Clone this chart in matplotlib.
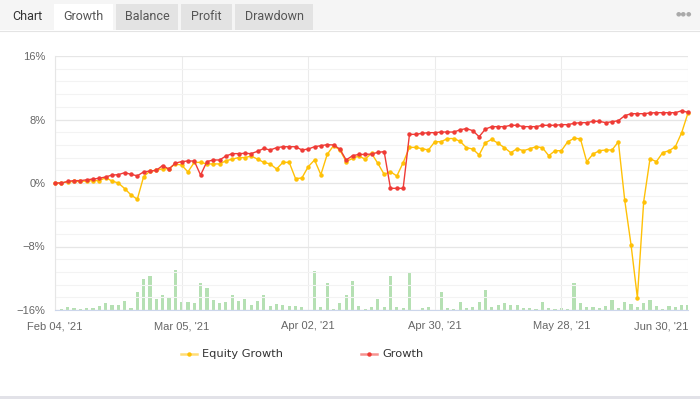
import matplotlib
matplotlib.use("Agg")
import matplotlib.pyplot as plt
import numpy as np
from matplotlib.patches import Rectangle
from matplotlib.lines import Line2D

# values (percent), one point per trading day
growth = [0.0, 0.0, 0.2, 0.3, 0.3, 0.4, 0.5, 0.6, 0.76, 1.0,
          1.05, 1.3, 1.1, 0.9, 1.4, 1.5, 1.6, 2.2, 1.76, 2.5,
          2.7, 2.77, 2.77, 1.0, 2.7, 2.9, 2.9, 3.4, 3.7, 3.7,
          3.74, 3.7, 4.0, 4.35, 4.16, 4.45, 4.57, 4.57, 4.57, 4.16,
          4.28, 4.57, 4.7, 4.83, 4.79, 4.28, 2.9, 3.44, 3.6, 3.6,
          3.65, 3.86, 3.95, -0.67, -0.67, -0.67, 6.13, 6.13, 6.26, 6.34,
          6.34, 6.42, 6.42, 6.42, 6.7, 6.86, 6.59, 5.83, 6.8, 7.1,
          7.1, 7.1, 7.27, 7.27, 7.1, 7.1, 7.1, 7.27, 7.27, 7.27,
          7.35, 7.35, 7.52, 7.6, 7.6, 7.77, 7.77, 7.6, 7.72, 7.85,
          8.48, 8.73, 8.73, 8.73, 8.82, 8.86, 8.86, 8.86, 8.86, 9.1,
          8.9]
equity_growth = [0.0, 0.0, 0.15, 0.2, 0.2, 0.25, 0.3, 0.3, 0.67, 0.25,
                 0.0, -0.7, -1.5, -2.05, 0.8, 1.5, 1.6, 1.8, 1.8, 2.4,
                 2.26, 1.4, 2.6, 2.6, 2.4, 2.4, 2.4, 2.8, 3.0, 3.2,
                 3.2, 3.4, 3.0, 2.6, 2.4, 1.76, 2.6, 2.6, 0.55, 0.63,
                 2.05, 2.9, 1.05, 3.6, 4.7, 4.16, 2.7, 3.1, 3.4, 3.0,
                 3.74, 2.48, 1.09, 1.43, 0.88, 2.56, 4.49, 4.49, 4.32, 4.16,
                 5.2, 5.2, 5.6, 5.6, 5.25, 4.45, 4.28, 3.53, 5.08, 5.5,
                 5.0, 4.45, 3.82, 4.32, 4.07, 4.32, 4.57, 4.45, 3.44, 4.07,
                 4.07, 5.2, 5.62, 5.58, 2.69, 3.65, 4.07, 4.16, 4.16, 5.2,
                 -2.14, -7.77, -14.44, -2.35, 3.06, 2.69, 3.82, 4.07, 4.57, 6.34,
                 8.82]
# small green columns at the bottom (relative units)
volume = [0, 0.7, 2.7, 1.7, 0.7, 1.7, 2, 3.7, 6.7, 4.7,
          4.7, 8.7, 2, 17.7, 30.7, 34, 10.7, 15, 12.7, 39.7,
          7.7, 7.7, 6.7, 26.7, 21.7, 10, 6.7, 7.7, 15, 8.7,
          10.7, 4.7, 8.7, 15, 3.7, 5.7, 4.7, 3.7, 3.7, 2.7,
          0.3, 38.7, 2.7, 26.7, 0.7, 6.7, 15, 28.7, 3.7, 0.7,
          3.3, 10.7, 2.7, 34, 3.3, 1.7, 37.7, 0.3, 1.7, 3.3,
          0.3, 17.7, 1.7, 0.7, 7.7, 1.7, 3.3, 7.7, 19.7, 2.7,
          4.7, 6.7, 4.7, 4.7, 1.7, 1.7, 0.7, 7.7, 1.7, 0.7,
          1.7, 0.7, 26.7, 6.7, 2.7, 2.7, 1.7, 3.7, 9.7, 1.7,
          7.7, 5.7, 2.7, 6.7, 9.7, 3.7, 0.7, 3.7, 2.7, 4.7,
          4.7]
tick_pos = [0, 20, 40, 60, 80, 100]
tick_labels = ["Feb 04, '21", "Mar 05, '21", "Apr 02, '21", "Apr 30, '21", "May 28, '21", "Jun 30, '21"]
tabs = ["Growth", "Balance", "Profit", "Drawdown"]

W, H = 700, 399
YELLOW = "#ffc107"
RED = "#ef3b36"


def fx(px):
    return px / W


def fy(py):
    return 1 - py / H


fig = plt.figure(figsize=(7, 3.99), dpi=100)
fig.patch.set_facecolor("white")

# header with tabs
fig.patches.append(Rectangle((0, fy(30)), 1, 30 / H, transform=fig.transFigure,
                             facecolor="#f5f5f5", edgecolor="none"))
fig.add_artist(Line2D([0, 1], [fy(30.5), fy(30.5)], color="#e4e4e4", lw=0.8))
fig.text(fx(12), fy(17), "Chart", fontsize=9, color="#333333", family="Roboto", va="center")
tab_x = [(54, 113), (116, 178), (181, 232), (235, 313)]
for name, (x0, x1) in zip(tabs, tab_x):
    fc = "white" if name == "Growth" else "#e3e3e3"
    top = 4
    bot = 31 if name == "Growth" else 30
    fig.patches.append(Rectangle((fx(x0), fy(bot)), fx(x1 - x0), (bot - top) / H,
                                 transform=fig.transFigure, facecolor=fc, edgecolor="none"))
    fig.text(fx((x0 + x1) / 2), fy(17), name, fontsize=9, color="#555555",
             family="Roboto", ha="center", va="center")
fig.text(fx(684), fy(14), "\u25cf\u25cf\u25cf", fontsize=4.5, color="#aaaaaa", ha="center", va="center")

# plot area
ax = fig.add_axes([fx(55), fy(310), fx(633), 254 / H])
ax2 = ax.twinx()
ax.set_zorder(ax2.get_zorder() + 1)
ax.patch.set_visible(False)

x = np.arange(len(growth))
ax2.bar(x, volume, width=0.5, color="#b5e0b3", zorder=2)
ax2.set_ylim(0, 254)
ax2.set_yticks([])
for s in ax2.spines.values():
    s.set_visible(False)

ax.plot(x, equity_growth, color=YELLOW, lw=1.0, marker="o", ms=2.2, zorder=4, clip_on=False)
ax.plot(x, growth, color=RED, lw=1.0, marker="o", ms=2.2, zorder=5, clip_on=False)

ax.set_xlim(0, 100)
ax.set_ylim(-16, 16)
ax.set_yticks([-16, -8, 0, 8, 16])
ax.set_yticklabels(["\u221216%", "\u22128%", "0%", "8%", "16%"])
ax.set_yticks(np.arange(-16, 16.01, 1.6), minor=True)
ax.set_xticks(tick_pos)
ax.set_xticklabels(tick_labels)
ax.grid(True, which="major", axis="y", color="#e6e6e6", lw=0.9)
ax.grid(True, which="major", axis="x", color="#ebebeb", lw=0.75)
ax.grid(True, which="minor", axis="y", color="#f3f3f3", lw=0.8)
ax.set_axisbelow(True)
ax.tick_params(axis="both", which="both", length=0, colors="#666666", labelsize=8)
ax.tick_params(axis="y", pad=7)
ax.tick_params(axis="x", pad=8)
for lab in ax.get_xticklabels() + ax.get_yticklabels():
    lab.set_family("Liberation Sans")
ax.get_xticklabels()[-1].set_ha("right")
ax.get_xticklabels()[-1].set_x(100)
for name, s in ax.spines.items():
    s.set_visible(False)
ax.spines["bottom"].set_visible(True)
ax.spines["bottom"].set_color("#ccd6eb")
ax.spines["left"].set_visible(True)
ax.spines["left"].set_color("#e6e6e6")

# legend drawn by hand
ly = fy(354)
for (x0, label, col) in [(181, "Equity Growth", YELLOW), (361, "Growth", RED)]:
    fig.add_artist(Line2D([fx(x0), fx(x0 + 16)], [ly, ly], color=col, lw=1.8, alpha=0.55))
    fig.add_artist(Line2D([fx(x0 + 8)], [ly], color=col, marker="o", ms=2.2, lw=0))
    fig.text(fx(x0 + 21), ly, label, fontsize=8.2, color="#333333", va="center", family="DejaVu Sans")

# bottom border
fig.patches.append(Rectangle((0, 0), 1, 3 / H, transform=fig.transFigure,
                             facecolor="#e2e2e8", edgecolor="none"))

fig.savefig("out.png", dpi=100)
